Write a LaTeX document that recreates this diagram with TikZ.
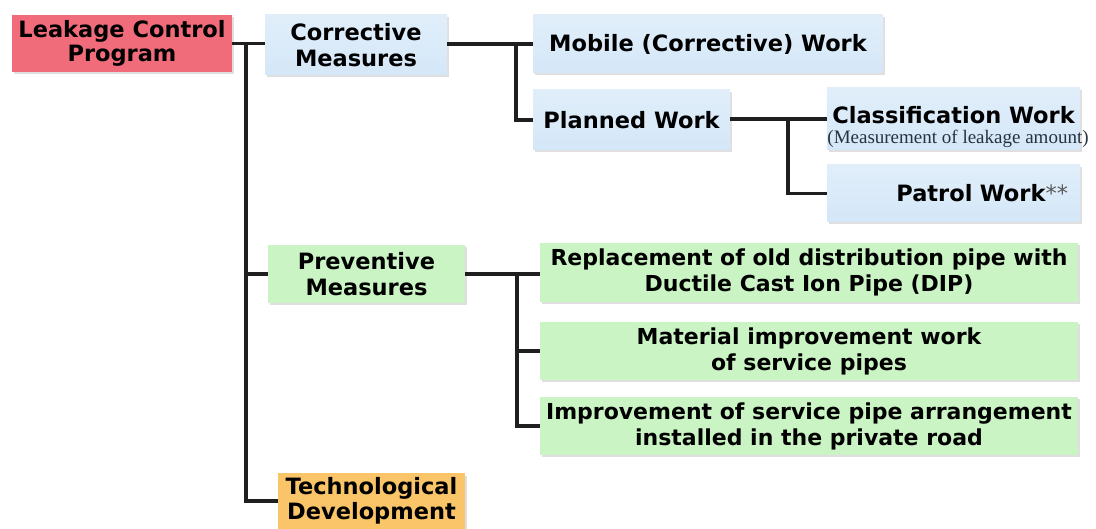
\documentclass[tikz,border=0pt]{standalone}
\usepackage{fontspec}
\setsansfont{DejaVu Sans}
\newfontfamily\notefont{Liberation Serif}
\usepackage{xcolor}
\usetikzlibrary{positioning,shadows}
\definecolor{rootred}{RGB}{241,108,122}
\definecolor{corrblue}{RGB}{212,231,248}
\definecolor{prevgreen}{RGB}{202,244,196}
\definecolor{techorange}{RGB}{250,196,104}
\definecolor{notegray}{RGB}{40,50,62}
\tikzset{
  box/.style  = {inner sep=3pt, align=center, font=\sffamily\bfseries\fontsize{22.5}{26}\selectfont,
                 drop shadow={opacity=0.25, shadow xshift=1.5pt, shadow yshift=-2.5pt}},
  root/.style = {box, fill=rootred, minimum width=220pt, minimum height=57pt, font=\sffamily\bfseries\fontsize{22.5}{24}\selectfont},
  corr/.style = {box, top color=corrblue!70!white, bottom color=corrblue, draw=none},
  prev/.style = {box, fill=prevgreen},
  wide/.style = {prev, inner xsep=1pt, minimum width=538pt, font=\sffamily\bfseries\fontsize{22}{26}\selectfont},
  tech/.style = {box, fill=techorange, font=\sffamily\bfseries\fontsize{22.5}{25}\selectfont},
  note/.style = {inner sep=0pt, text=notegray, font=\notefont\fontsize{19}{21}\selectfont},
  conn/.style = {line width=3.2pt, draw=black!88}
}

\begin{document}
\begin{tikzpicture}[x=1pt, y=-1pt]
\useasboundingbox (0,0) rectangle (1096,529);

% Top level
\node[root] (lcp) at (122,43.5) {Leakage Control\\Program};
\node[corr, minimum width=182pt, minimum height=60pt] (corm) at (356,45) {Corrective\\Measures};
\node[prev, minimum width=197pt, minimum height=58pt] (prvm) at (366.5,274) {Preventive\\Measures};
\node[tech, minimum width=187pt, minimum height=56pt] (tdev) at (371.5,501) {Technological\\Development};

% Corrective branch
\node[corr, minimum width=350pt, minimum height=58pt] (mob) at (708,44) {Mobile (Corrective) Work};
\node[corr, minimum width=197pt, minimum height=60pt] (plan) at (631.5,120) {Planned Work};
\node[corr, minimum width=253pt, minimum height=62pt] (cls) at (953.5,119) {};
\node[font=\sffamily\bfseries\fontsize{22.5}{26}\selectfont, inner sep=0pt] (clst) at (953.5,115) {Classification Work};
\node[note] (clsn) at (958,139) {(Measurement of leakage amount)};
\node[corr, minimum width=253pt, minimum height=57pt, text width=229pt, inner xsep=12pt, align=right] (pat) at (953.5,193.5)
  {Patrol Work\textcolor{black!65}{\mdseries**}};

% Preventive branch
\node[wide, minimum height=59pt] (repl) at (809,272.5) {Replacement of old distribution pipe with\\Ductile Cast Ion Pipe (DIP)};
\node[wide, minimum height=58pt] (mat) at (809,351) {Material improvement work\\of service pipes};
\node[wide, minimum height=58pt] (impr) at (809,426) {Improvement of service pipe arrangement\\installed in the private road};

% Junctions
\coordinate (j1) at (246,43.5);
\coordinate (j2) at (516,44);
\coordinate (j3) at (788,119);
\coordinate (j4) at (517,274);

% Connectors
\draw[conn] (lcp.east) -- (corm.west |- lcp.east);
\draw[conn] (j1) |- (prvm.west);
\draw[conn] (j1) |- (tdev.west);
\draw[conn] (corm.east |- j2) -- (mob.west);
\draw[conn] (j2) |- (plan.west);
\draw[conn] (plan.east |- j3) -- (cls.west);
\draw[conn] (j3) |- (pat.west);
\draw[conn] (prvm.east) -- (repl.west |- prvm.east);
\draw[conn] (j4) |- (mat.west);
\draw[conn] (j4) |- (impr.west);
\end{tikzpicture}
\end{document}
